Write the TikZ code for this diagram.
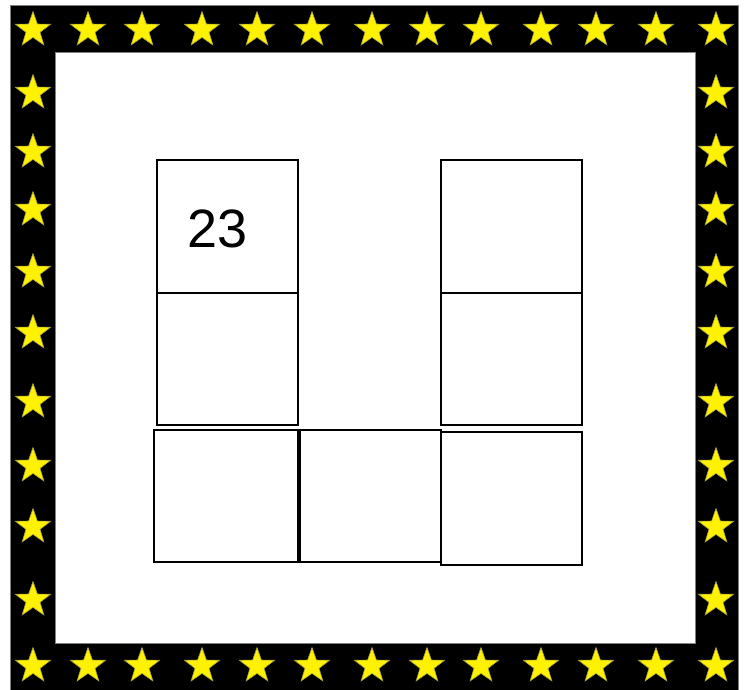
\documentclass[tikz,border=0pt]{standalone}
\usepackage{fontspec}
\setmainfont{Liberation Sans}
\usetikzlibrary{shapes.geometric}

\tikzset{
  starmark/.style={star, star points=5, star point ratio=2.5, inner sep=0pt,
    minimum size=37pt, fill=yellow, draw=yellow!60!black, line width=0.6pt},
  cell/.style={draw=black, line width=2pt, fill=white}
}

\begin{document}
\begin{tikzpicture}[x=1pt,y=-1pt]
  \useasboundingbox (0,0) rectangle (750,690);
  % frame
  \fill[white] (0,0) rectangle (750,690);
  \draw[fill=black, draw=black!50] (10,5) rectangle (738,692);
  \draw[fill=white, draw=black!50] (55,52) rectangle (695,643);
  % stars along the frame
  \foreach \x [count=\i] in {33,88,142,202,257,312,372,427,481,541,596,656,716} {
    \node[starmark] (st-top-\i) at (\x,30) {};
    \node[starmark] (st-bot-\i) at (\x,666) {};
  }
  \foreach \y [count=\i] in {93,152,210,272,333,402,466,527,600} {
    \node[starmark] (st-left-\i) at (33,\y) {};
    \node[starmark] (st-right-\i) at (716,\y) {};
  }
  % cells
  \draw[cell] (157,160) rectangle (298,293) coordinate (c-a);
  \draw[cell] (157,293) rectangle (298,425) coordinate (c-b);
  \draw[cell] (441,160) rectangle (582,293) coordinate (c-c);
  \draw[cell] (441,293) rectangle (582,425) coordinate (c-d);
  \draw[cell] (154,430) rectangle (298,562) coordinate (c-e);
  \draw[cell] (300,430) rectangle (441,562) coordinate (c-f);
  \draw[cell] (441,432) rectangle (582,565) coordinate (c-g);
  \node[font=\fontsize{54}{60}\selectfont] (num) at (218,229) {23};
\end{tikzpicture}
\end{document}
